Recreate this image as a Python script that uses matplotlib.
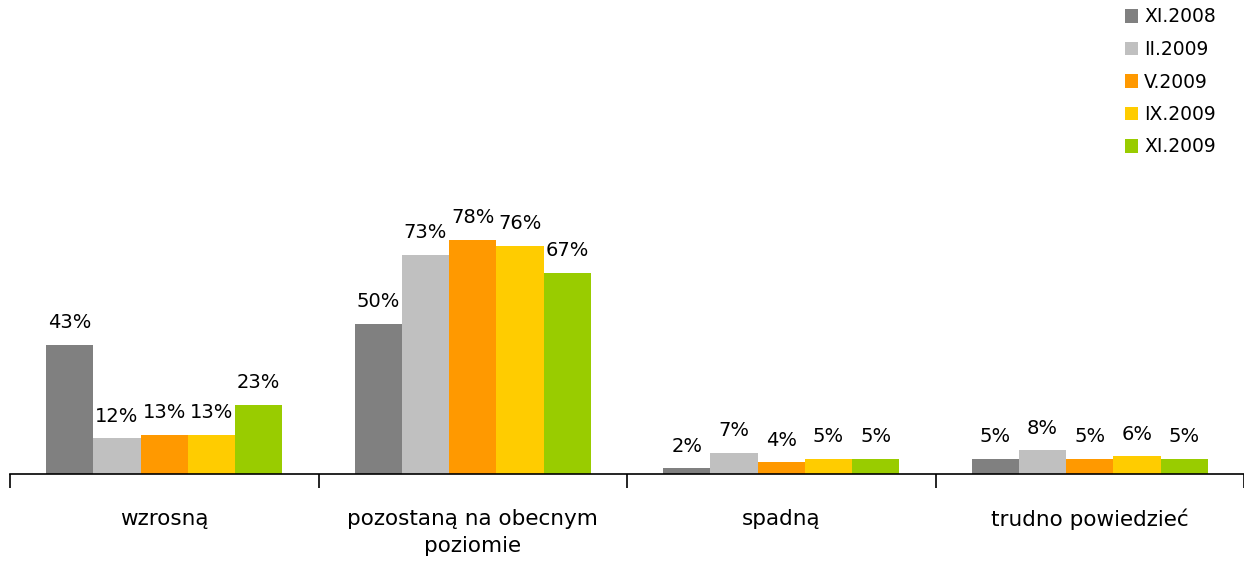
import matplotlib.pyplot as plt
import numpy as np

categories = ['wzrosną', 'pozostaną na obecnym\npoziomie', 'spadną', 'trudno powiedzieć']
series = ['XI.2008', 'II.2009', 'V.2009', 'IX.2009', 'XI.2009']
values = [
    [43, 50, 2, 5],
    [12, 73, 7, 8],
    [13, 78, 4, 5],
    [13, 76, 5, 6],
    [23, 67, 5, 5],
]
colors = ['#808080', '#C0C0C0', '#FF9900', '#FFCC00', '#99CC00']

plt.rcParams['font.family'] = ['DejaVu Sans']

fig = plt.figure(figsize=(12.44, 5.62), dpi=100)
ax = fig.add_axes([10 / 1244, 88 / 562, 1234 / 1244, 270 / 562])

x = np.arange(len(categories))
group = 0.766
w = group / len(series)

for i, (name, vals, c) in enumerate(zip(series, values, colors)):
    pos = x - group / 2 + w / 2 + i * w
    bars = ax.bar(pos, vals, width=w, color=c, label=name, linewidth=0)
    ax.bar_label(bars, labels=[f'{v}%' for v in vals], padding=9, fontsize=14)

ax.set_xlim(-0.5, len(categories) - 0.5)
ax.set_ylim(0, 90)
ax.set_yticks([])
for s in ['top', 'right', 'left']:
    ax.spines[s].set_visible(False)
ax.spines['bottom'].set_linewidth(1.2)

# ticks at group borders, labels at centres
ax.set_xticks(np.arange(len(categories) + 1) - 0.5)
ax.set_xticklabels([])
ax.tick_params(axis='x', which='major', length=10, width=1.2, direction='out')
ax.set_xticks(x, minor=True)
ax.set_xticklabels(categories, minor=True, fontsize=15.5, linespacing=1.45)
ax.tick_params(axis='x', which='minor', length=0, pad=25)

fig.legend(loc='upper left', bbox_to_anchor=(1117 / 1244, 1.0), frameon=False,
           fontsize=13.5, handlelength=0.7, handleheight=0.7, handletextpad=0.35,
           labelspacing=0.72, borderaxespad=0.0)

fig.savefig('out.png', dpi=100)
